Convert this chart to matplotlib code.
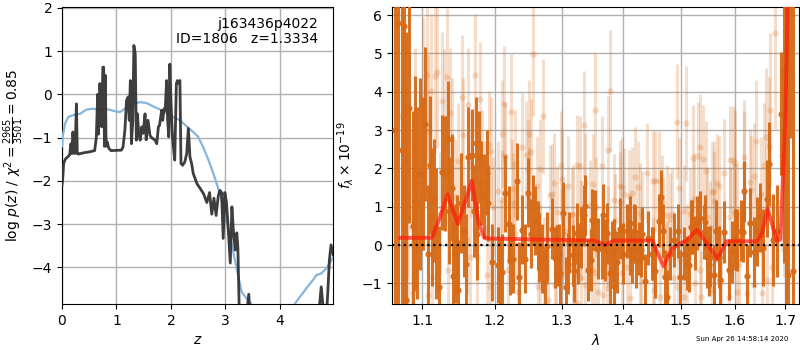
import matplotlib
matplotlib.use("Agg")
import matplotlib.pyplot as plt
from matplotlib.ticker import NullLocator, FixedLocator, FixedFormatter

# ---- redshift probability p(z) ----
pz_z = [0.0, 0.012, 0.03, 0.06, 0.1, 0.14, 0.165, 0.18, 0.2, 0.23, 0.24, 0.265, 0.28, 0.3,
        0.4, 0.5, 0.6, 0.63, 0.655, 0.67, 0.695, 0.71, 0.73, 0.75, 0.765, 0.78, 0.795,
        0.81, 0.83, 0.86, 0.9, 1.09, 1.12, 1.155, 1.185, 1.215, 1.235, 1.255, 1.275,
        1.3, 1.32, 1.345, 1.365, 1.385, 1.41, 1.435, 1.465, 1.49, 1.525, 1.545, 1.58,
        1.615, 1.645, 1.71, 1.74, 1.77, 1.79, 1.83, 1.85, 1.875, 1.895, 1.92, 1.94,
        1.96, 1.98, 2.0, 2.025, 2.04, 2.07, 2.1, 2.12, 2.145, 2.165, 2.185, 2.215,
        2.255, 2.29, 2.32, 2.35, 2.38, 2.41, 2.48, 2.54, 2.6, 2.66, 2.71, 2.75, 2.79,
        2.83, 2.87, 2.9, 2.93, 2.96, 2.99, 3.02, 3.05, 3.09, 3.12, 3.15, 3.18, 3.21,
        3.23, 3.26, 3.3, 3.38, 3.43, 3.45, 3.47, 3.55, 3.8, 4.1, 4.4, 4.66, 4.72, 4.76,
        4.8, 4.84, 4.88, 4.91, 4.94, 4.98]
pz_log = [-2.1, -1.98, -1.6, -1.5, -1.45, -1.4, -1.14, -1.37, -0.87, -1.37, -1.3, -0.22,
          -1.37, -1.38, -1.35, -1.33, -1.3, -1.0, 0.0, -0.92, 0.25, -0.06, -0.75, 0.63,
          0.63, -1.2, 0.44, -1.2, -1.1, -1.25, -1.3, -1.29, -1.22, -0.83, -0.14, -0.06,
          -0.6, 0.32, -1.14, -0.6, 1.13, 0.94, -1.06, -0.45, -0.9, -1.06, -0.75, -0.9,
          -0.45, -1.05, -0.6, -0.95, -1.0, -1.06, -1.14, -0.75, -0.72, -0.37, -0.6,
          -0.33, -0.37, 0.32, -0.6, -0.98, 0.7, -0.14, -0.9, -1.14, -1.52, 0.25, 0.32,
          0.25, 0.32, -1.6, -1.64, -1.56, -1.37, -0.79, -1.45, -1.6, -1.83, -2.07,
          -2.18, -2.3, -2.5, -2.27, -2.77, -2.4, -2.8, -2.34, -2.22, -2.27, -3.33, -2.27,
          -2.5, -3.06, -3.9, -2.6, -3.2, -3.6, -3.2, -3.56, -5.3, -5.8, -5.2, -4.62,
          -5.1, -5.6, -6.0, -6.3, -6.1, -5.6, -5.2, -5.0, -4.45, -5.0, -5.4, -4.6, -3.83,
          -3.48, -3.7]

# ---- smoothed prior / template curve ----
prior_z = [0.0, 0.012, 0.055, 0.116, 0.208, 0.33, 0.453, 0.575, 0.697, 0.82, 0.942,
           1.064, 1.156, 1.278, 1.43, 1.55, 1.68, 1.8, 1.92, 2.04, 2.165, 2.29, 2.41,
           2.5, 2.6, 2.69, 2.78, 2.87, 2.96, 3.05, 3.15, 3.24, 3.3, 3.39, 3.48, 3.6,
           3.9, 4.2, 4.27, 4.37, 4.49, 4.61, 4.67, 4.76, 4.85, 4.95, 4.98]
prior_log = [-1.2, -0.98, -0.68, -0.52, -0.48, -0.45, -0.35, -0.33, -0.37, -0.34,
             -0.38, -0.41, -0.33, -0.23, -0.18, -0.2, -0.28, -0.35, -0.43, -0.52,
             -0.6, -0.74, -0.87, -0.98, -1.24, -1.52, -1.83, -2.18, -2.57, -3.06,
             -3.68, -4.22, -4.57, -4.72, -4.85, -5.0, -5.1, -4.95, -4.85, -4.68,
             -4.48, -4.29, -4.18, -4.14, -4.03, -3.83, -3.76]

# ---- spectrum: higher-S/N extraction ----
spec1_wave = [1.0650, 1.0692, 1.0736, 1.0766, 1.0791, 1.0834, 1.0880, 1.0908, 1.0930,
              1.0974, 1.1017, 1.1040, 1.1084, 1.1129, 1.1160, 1.1231, 1.1271, 1.1307,
              1.1344, 1.1361, 1.1420, 1.1444, 1.1467, 1.1490, 1.1527, 1.1568, 1.1619,
              1.1675, 1.1732, 1.1754, 1.1802, 1.1849, 1.1887, 1.1910, 1.1958,
              1.2053, 1.2078, 1.2103, 1.2151, 1.2209, 1.2273, 1.2323, 1.2356, 1.2397,
              1.2446, 1.2481, 1.2532, 1.2556, 1.2597, 1.2647, 1.2698, 1.2738, 1.2774,
              1.2851, 1.2903, 1.2929, 1.2980, 1.3031, 1.3069, 1.3120, 1.3173, 1.3204,
              1.3243, 1.3311, 1.3348, 1.3364, 1.3418, 1.3471, 1.3492, 1.3536, 1.3589,
              1.3645, 1.3666, 1.3727, 1.3781, 1.3809, 1.3848, 1.3893, 1.3948, 1.3993,
              1.4060, 1.4116, 1.4172, 1.4218, 1.4257, 1.4315, 1.4372, 1.4428, 1.4488,
              1.4545, 1.4603, 1.4650, 1.4676, 1.4720, 1.4750, 1.4809, 1.4868, 1.4940,
              1.4988, 1.5060, 1.5138, 1.5182, 1.5248, 1.5291, 1.5352, 1.5413, 1.5444,
              1.5476, 1.5506, 1.5649, 1.5692, 1.5724, 1.5800, 1.5881, 1.5947, 1.6043,
              1.6120, 1.6170, 1.6236, 1.6300, 1.6366, 1.6433, 1.6483, 1.6551, 1.6630,
              1.6676, 1.6751, 1.6832, 1.6911, 1.6964, 1.7010, 1.7045, 1.7100, 1.7155,
              1.2224, 1.2637, 1.2954, 1.3109, 1.3258, 1.3699, 1.3836, 1.4105, 1.4145,
              1.4202, 1.4298, 1.4515, 1.5109, 1.5200, 1.5537, 1.5612, 1.6009, 1.6158,
              1.1100, 1.1190, 1.1395, 1.1590, 1.1705, 1.1780]
spec1_flux = [3.0, 5.78, 2.48, 5.71, -1.43, 3.58, 0.5, 1.6, 1.1,
              1.86, 1.86, 3.16, -0.22, 0.74, 1.17, -1.1, 1.9, 1.86,
              2.77, 0.9, -0.8, -0.22, 0.0, -1.16, 1.1, 0.37, 2.29,
              2.34, 2.67, 0.28, 1.62, 1.27, 1.89, 1.1, -0.45,
              -0.52, -0.85, -0.7, 1.35, 0.54, -0.35, 1.66, -0.83, 0.4,
              -0.35, 1.36, 0.3, 0.93, 0.64, -0.05, -0.35, -0.96, -0.03,
              0.43, -0.33, -0.27, -0.74, 0.84, -1.1, 0.06, -0.27, -0.68,
              0.31, 0.19, 0.78, 1.03, -0.65, -0.39, 0.66, 0.64, -0.09,
              -0.08, 0.79, 0.31, -0.74, -0.18, -1.07, -0.44, 0.43, -0.22,
              0.36, -0.09, 0.38, -0.41, -0.09, 0.3, -0.94, 0.19, -0.22,
              -0.67, 0.64, 1.25, 0.37, -0.83, -1.35, -0.22, 0.13, 0.37,
              -0.83, -0.22, -0.53, 0.47, 0.05, 0.58, 0.71, 0.34, 0.6,
              -0.31, -0.53, 0.38, -0.31, -0.91, 0.34, -0.64, -0.18, 0.13,
              0.38, 1.4, -0.81, 0.58, -0.18, 0.36, 0.73, -0.07, 1.21,
              2.12, 0.13, 0.38, 3.43, 4.53, 1.5, -0.79, 7.5, -0.67,
              -0.39, 0.24, -0.26, -0.48, -0.22, -0.13, -0.13, 0.57, -0.3,
              0.35, -0.13, -0.22, -0.46, 0.48, -0.3, -0.78, 0.15, 0.35,
              2.1, 0.3, 1.5, -0.5, 0.9, 2.3]
spec1_err = [8.0, 8.0, 8.0, 8.0, 7.0, 3.0, 3.0, 2.8, 2.5,
             2.5, 2.0, 2.0, 1.8, 1.8, 1.6, 1.6, 1.5, 1.5,
             1.5, 1.4, 1.4, 1.3, 1.3, 1.3, 1.3, 1.2, 1.3,
             1.2, 1.2, 1.2, 1.1, 1.1, 1.1, 1.0, 1.0,
             1.0, 1.0, 1.0, 1.0, 1.0, 0.9, 1.0, 0.9, 0.9,
             0.9, 0.9, 0.9, 0.9, 0.9, 0.9, 0.9, 0.9, 0.9,
             0.8, 0.8, 0.8, 0.8, 0.8, 0.8, 0.8, 0.8, 0.8,
             0.8, 0.8, 0.8, 0.8, 0.8, 0.8, 0.8, 0.8, 0.8,
             0.8, 0.8, 0.8, 0.8, 0.8, 0.8, 0.8, 0.8, 0.8,
             0.7, 0.7, 0.7, 0.7, 0.7, 0.7, 0.7, 0.7, 0.7,
             0.7, 0.7, 0.7, 0.7, 0.7, 0.7, 0.7, 0.7, 0.7,
             0.7, 0.7, 0.7, 0.7, 0.7, 0.7, 0.7, 0.7, 0.7,
             0.8, 0.8, 0.8, 0.8, 0.8, 0.8, 0.8, 0.8, 0.8,
             0.8, 0.8, 0.8, 0.9, 0.9, 0.9, 0.9, 1.0, 1.0,
             1.1, 1.2, 1.2, 1.6, 5.0, 8.0, 8.0, 4.7, 8.0,
             0.9, 0.9, 0.8, 0.8, 0.8, 0.8, 0.8, 0.7, 0.7,
             0.7, 0.7, 0.7, 0.7, 0.7, 0.8, 0.8, 0.8, 0.8,
             1.8, 1.7, 1.4, 1.3, 1.2, 1.2]

# ---- spectrum: lower-S/N extraction ----
spec2_wave = [1.0736, 1.0800, 1.0821, 1.0865, 1.0886, 1.0908, 1.1017, 1.1063, 1.1073,
              1.1084, 1.1116, 1.1129, 1.1173, 1.1204, 1.1240, 1.1263, 1.1294, 1.1330,
              1.1352, 1.1375, 1.1398, 1.1444, 1.1490, 1.1537, 1.1550, 1.1605, 1.1619,
              1.1651, 1.1658, 1.1726, 1.1746, 1.1792, 1.1816, 1.1863, 1.1887, 1.1924,
              1.1934, 1.1946, 1.1982,
              1.2045, 1.2112, 1.2141, 1.2151, 1.2199, 1.2239, 1.2249, 1.2297, 1.2346,
              1.2406, 1.2457, 1.2496, 1.2506, 1.2536, 1.2556, 1.2623, 1.2636, 1.2663,
              1.2709, 1.2724, 1.2799, 1.2851, 1.2891, 1.2903, 1.2929, 1.3006, 1.3019,
              1.3058, 1.3109, 1.3163, 1.3216, 1.3243, 1.3295, 1.3348, 1.3375, 1.3455,
              1.3508, 1.3525, 1.3536, 1.3645,
              1.3671, 1.3727, 1.3737, 1.3770, 1.3836, 1.3864, 1.3936, 1.3976, 1.4015,
              1.4087, 1.4116, 1.4145, 1.4202, 1.4241, 1.4286, 1.4315, 1.4411, 1.4505,
              1.4515, 1.4545, 1.4603, 1.4662, 1.4750, 1.4809, 1.4839, 1.4929, 1.4943,
              1.4970, 1.5048, 1.5097, 1.5169, 1.5230, 1.5261, 1.5352, 1.5361, 1.5402,
              1.5463,
              1.5537, 1.5569, 1.5599, 1.5612, 1.5692, 1.5724, 1.5800, 1.5914, 1.5966,
              1.6043, 1.6074, 1.6170, 1.6184, 1.6236, 1.6286, 1.6320, 1.6366, 1.6379,
              1.6419, 1.6511, 1.6531, 1.6577, 1.6616, 1.6630, 1.6662, 1.6696, 1.6730,
              1.6797, 1.6931, 1.6964,
              1.2490, 1.2995, 1.3364, 1.3948, 1.2103, 1.2260, 1.2825, 1.3173, 1.3300,
              1.3753, 1.3545, 1.2093, 1.2910, 1.3180, 1.3311, 1.3482, 1.3589, 1.3836,
              1.3243, 1.2672, 1.3006, 1.2297, 1.3976, 1.4755, 1.5218, 1.5303, 1.5575,
              1.5661, 1.5914, 1.6009, 1.5109, 1.4988, 1.5352, 1.5730, 1.5881, 1.6043,
              1.4060, 1.4295, 1.4520, 1.4632, 1.4868, 1.5048, 1.4280, 1.4690, 1.5476,
              1.5977]
spec2_flux = [3.37, 2.16, 0.69, 0.47, -1.26, 2.64, 3.76, 4.44, 2.98,
              -1.3, 4.02, -0.83, 4.41, 4.52, 0.82, 3.75, 3.31, 4.39,
              -0.66, 3.44, 2.77, 1.25, 2.2, 3.87, 2.87, 0.13, 3.65,
              -0.31, 2.12, 4.44, -0.31, 3.81, 2.12, 1.42, -0.78, 2.62,
              -1.09, 2.46, 1.0,
              1.42, 2.9, 3.68, 2.33, -0.65, 3.48, 1.47, 2.12, -1.22,
              2.57, 2.35, 2.91, 1.25, 2.42, 4.98, 1.55, -1.09, 1.99,
              3.36, -0.57, -1.44, 1.34, 1.62, -1.05, 0.86, 1.73, 0.3,
              0.38, 1.55, 0.82, -0.81, 2.09, 2.07, 3.14, -1.05, 1.03,
              1.6, 3.52, -0.74, 2.07,
              -1.3, -1.13, 2.48, 4.02, 1.18, 0.65, 1.53, -0.74, 1.34,
              1.27, -1.39, 1.36, 1.77, 1.51, -0.74, 0.73, 1.88, 1.67,
              -0.48, 1.68, 1.68, 1.16, -0.57, 0.69, 0.82, 3.22, -1.09,
              1.49, 0.9, 3.18, 0.82, 1.19, -1.0, 2.55, -1.35, 2.25,
              1.94,
              0.47, -1.17, 1.42, 1.16, 1.55, -0.31, 1.88, 0.73, 2.22,
              0.82, -0.48, 2.29, 2.09, -1.26, 1.64, 1.44, -1.05, 1.79,
              2.71, 1.32, -1.26, 2.1, 2.83, -0.9, 2.58, 3.53, -0.57,
              5.52, 2.33, 1.68,
              1.96, 2.09, 1.63, 1.13, 1.17, 1.09, 1.3, 0.78, 0.39,
              0.23, 1.0, -0.13, -0.74, -0.61, -0.85, -0.65, -1.22, -0.91,
              -1.52, -0.22, 0.13, 0.3, 1.52, 0.78, 2.26, 2.32, 1.39,
              1.61, 2.23, 2.13, -0.22, -0.39, -0.65, -0.91, -1.35, -1.22,
              -0.57, -0.3, -1.17, -1.35, -0.87, -1.35, 0.83, 0.48, 0.74,
              0.83]
spec2_err = [3.0, 3.0, 2.5, 2.5, 2.5, 2.5, 2.2, 2.2, 2.0,
             2.0, 2.0, 1.8, 2.0, 2.0, 1.6, 1.8, 1.8, 1.8,
             1.6, 1.7, 1.6, 1.5, 1.5, 1.6, 1.5, 1.4, 1.5,
             1.4, 1.4, 1.6, 1.4, 1.5, 1.4, 1.3, 1.3, 1.4,
             1.3, 1.4, 1.3,
             1.3, 1.4, 1.5, 1.4, 1.3, 1.5, 1.3, 1.4, 1.3,
             1.4, 1.4, 1.4, 1.3, 1.4, 1.6, 1.3, 1.3, 1.3,
             1.5, 1.3, 1.3, 1.3, 1.3, 1.3, 1.2, 1.3, 1.2,
             1.2, 1.3, 1.2, 1.2, 1.3, 1.3, 1.4, 1.2, 1.2,
             1.3, 1.5, 1.2, 1.3,
             1.2, 1.2, 1.4, 1.6, 1.2, 1.2, 1.2, 1.2, 1.2,
             1.2, 1.2, 1.2, 1.3, 1.2, 1.2, 1.2, 1.3, 1.3,
             1.2, 1.3, 1.3, 1.2, 1.2, 1.2, 1.2, 1.5, 1.2,
             1.3, 1.2, 1.5, 1.2, 1.2, 1.2, 1.4, 1.2, 1.4,
             1.3,
             1.2, 1.3, 1.3, 1.3, 1.3, 1.3, 1.4, 1.3, 1.4,
             1.3, 1.3, 1.5, 1.4, 1.3, 1.4, 1.4, 1.4, 1.4,
             1.6, 1.5, 1.5, 1.6, 1.8, 1.6, 1.8, 2.0, 1.8,
             2.5, 2.5, 2.5,
             1.3, 1.4, 1.3, 1.3, 1.3, 1.3, 1.3, 1.3, 1.3,
             1.3, 1.3, 1.3, 1.3, 1.3, 1.3, 1.3, 1.3, 1.3,
             1.3, 1.3, 1.3, 1.3, 1.3, 1.3, 1.4, 1.4, 1.3,
             1.3, 1.4, 1.4, 1.3, 1.3, 1.3, 1.3, 1.3, 1.3,
             1.3, 1.3, 1.3, 1.3, 1.3, 1.3, 1.3, 1.3, 1.3,
             1.3]

# ---- best-fit model ----
model_wave = [1.0714, 1.1128, 1.124, 1.134, 1.148, 1.156, 1.1675, 1.1769, 1.185,
              1.1935, 1.351, 1.356, 1.370, 1.384, 1.449, 1.469, 1.484, 1.499, 1.511,
              1.529, 1.5475, 1.567, 1.585, 1.643, 1.653, 1.664, 1.683, 1.690, 1.700,
              1.705]
model_flux = [0.19, 0.19, 0.73, 1.32, 0.55, 1.0, 1.68, 0.6, 0.2, 0.17, 0.12, 0.1, 0.0,
              0.12, 0.12, -0.55, -0.1, 0.05, 0.12, 0.4, 0.05, -0.35, 0.1, 0.1, 0.3, 0.95,
              0.12, 0.15, 3.3, 6.5]

lam_ticks = [1.1, 1.2, 1.3, 1.4, 1.5, 1.6, 1.7]
flux_ticks = [-1, 0, 1, 2, 3, 4, 5, 6]
z_ticks = [0, 1, 2, 3, 4]
logp_ticks = [-4, -3, -2, -1, 0, 1, 2]

ORANGE = "#d66a17"
GRID = "#b0b0b0"

fig = plt.figure(figsize=(8, 3.5), dpi=100)

# ---------------- p(z) panel ----------------
ax1 = fig.add_axes([0.0775, 0.131, 0.339, 0.849])
ax1.plot(prior_z, prior_log, color="#86b5dc", lw=1.6, zorder=3)
ax1.plot(pz_z, pz_log, color="#333333", lw=2.0, alpha=0.95, zorder=4)
ax1.set_xlim(0, 4.98)
ax1.set_ylim(-4.85, 2.02)
ax1.set_xticks(z_ticks)
ax1.set_yticks(logp_ticks)
ax1.grid(True, color=GRID, lw=1)
ax1.set_axisbelow(True)
ax1.set_xlabel(r"$z$", fontsize=10)
ax1.set_ylabel(r"$\log\,p(z)$ / $\chi^2=\frac{2965}{3501}=0.85$", fontsize=10)
ax1.text(0.945, 0.966, "j163436p4022\nID=1806   z=1.3334", transform=ax1.transAxes,
         ha="right", va="top", fontsize=10, linespacing=1.1)

# ---------------- spectrum panel ----------------
ax2 = fig.add_axes([0.49, 0.131, 0.509, 0.849])
ax2.errorbar(spec2_wave, spec2_flux, yerr=spec2_err, fmt="o", color=ORANGE,
             ecolor=ORANGE, alpha=0.22, ms=4.5, mec="none", elinewidth=2.2,
             capsize=0, zorder=2)
ax2.errorbar(spec1_wave, spec1_flux, yerr=spec1_err, fmt="o", color=ORANGE,
             ecolor=ORANGE, alpha=0.95, ms=4.5, mec="none", elinewidth=2.2,
             capsize=0, zorder=3)
ax2.plot(model_wave, model_flux, color="#ff1a0a", lw=2.8, alpha=0.7, zorder=5)
ax2.axhline(0, color="k", ls=":", lw=1.6, zorder=6)
ax2.set_xscale("log")
ax2.set_xlim(1.061, 1.7285)
ax2.set_ylim(-1.54, 6.21)
ax2.xaxis.set_major_locator(FixedLocator(lam_ticks))
ax2.xaxis.set_major_formatter(FixedFormatter([f"{t:.1f}" for t in lam_ticks]))
ax2.xaxis.set_minor_locator(NullLocator())
ax2.set_yticks(flux_ticks)
ax2.grid(True, color=GRID, lw=1, zorder=0)
ax2.set_axisbelow(True)
ax2.set_xlabel(r"$\lambda$", fontsize=10)
ax2.set_ylabel(r"$f_\lambda\times10^{-19}$", fontsize=10)

fig.text(0.985, 0.031, "Sun Apr 26 14:58:14 2020", ha="right", va="center",
         fontsize=5)

fig.savefig("out.png", dpi=100)
